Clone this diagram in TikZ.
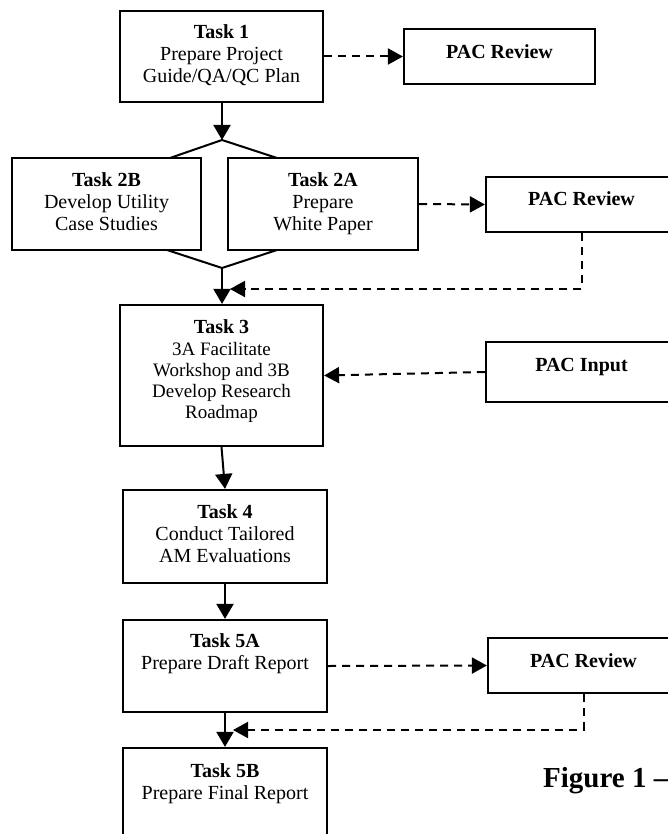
\documentclass[tikz,border=0pt]{standalone}
\usepackage{fontspec}
\setmainfont{Liberation Serif}
\usetikzlibrary{arrows.meta,calc}

% box content: width, height, first-baseline depth, text
\newcommand{\boxcontent}[4]{\parbox[c][#2][t]{#1}{\centering\fontsize{20}{22}\selectfont\rule{0pt}{#3}#4}}

\tikzset{
  taskbox/.style={draw, line width=2.2pt, inner sep=0pt},
  flow/.style={line width=2pt, -{Triangle[length=15pt,width=17pt]}},
  plainline/.style={line width=2pt},
  feedback/.style={line width=2pt, dash pattern=on 8pt off 6pt, -{Triangle[length=15pt,width=16pt]}},
  figtext/.style={anchor=base west, inner sep=0pt, font=\bfseries\fontsize{29}{34}\selectfont}
}

\begin{document}
\begin{tikzpicture}[x=1pt,y=-1pt]
\useasboundingbox (0,0) rectangle (668,834);
\clip (0,0) rectangle (668,834);

% task boxes
\node[taskbox] (t1) at (221.5,56.5) {\boxcontent{203pt}{91pt}{28pt}{\textbf{Task 1}\\Prepare Project\\Guide/QA/QC Plan}};
\node[taskbox] (t2b) at (106.5,204) {\boxcontent{189pt}{92pt}{29pt}{\textbf{Task 2B}\\Develop Utility\\Case Studies}};
\node[taskbox] (t2a) at (323,204) {\boxcontent{190pt}{92pt}{29pt}{\textbf{Task 2A}\\Prepare\\White Paper}};
\node[taskbox] (t3) at (221.5,375.5) {\boxcontent{203pt}{141pt}{28pt}{\textbf{Task 3}\\[1.5pt]\fontsize{19}{21}\selectfont 3A Facilitate\\Workshop and 3B\\Develop Research\\Roadmap}};
\node[taskbox] (t4) at (225,536.5) {\boxcontent{204pt}{93pt}{28pt}{\textbf{Task 4}\\Conduct Tailored\\AM Evaluations}};
\node[taskbox] (t5a) at (225,666) {\boxcontent{204pt}{92pt}{27.5pt}{\textbf{Task 5A}\\Prepare Draft Report}};
\node[taskbox] (t5b) at (225,794) {\boxcontent{204pt}{92pt}{29pt}{\textbf{Task 5B}\\Prepare Final Report}};

% PAC boxes
\node[taskbox] (p1) at (499.5,56.5) {\boxcontent{191pt}{55pt}{30pt}{\textbf{PAC Review}}};
\node[taskbox] (p2) at (581.5,204.5) {\boxcontent{191pt}{55pt}{28.5pt}{\textbf{PAC Review}}};
\node[taskbox] (pin) at (581.5,372) {\boxcontent{191pt}{60pt}{29.5pt}{\textbf{PAC Input}}};
\node[taskbox] (p3) at (583.5,665.5) {\boxcontent{191pt}{55pt}{29pt}{\textbf{PAC Review}}};

% caption
\node[figtext] (fig) at (543,787) {Figure 1 –};

% split / join points
\coordinate (split) at (222,140);
\coordinate (s2b) at (170,158);
\coordinate (s2a) at (277,158);
\coordinate (j2b) at (167,250);
\coordinate (j2a) at (277,250);
\coordinate (join) at (222,268);
\coordinate (fb2) at (230,289);
\coordinate (fb3) at (233,730);

% solid flow
\draw[flow] (t1.south -| split) -- (split);
\draw[plainline] (s2b) -- (split) -- (s2a);
\draw[plainline] (j2b) -- (join) -- (j2a);
\draw[flow] (join) -- (join |- t3.north);
\draw[flow] (t3.south) -- (t4.north);
\draw[flow] (t4.south) -- (t5a.north);
\draw[flow] (t5a.south) -- (t5b.north);

% dashed feedback
\draw[feedback] (t1.east) -- (p1.west);
\draw[feedback] (t2a.east) -- (p2.west);
\draw[feedback] (p2.south) |- (fb2);
\draw[feedback] (pin.west) -- (t3.east);
\draw[feedback] (t5a.east) -- (p3.west);
\draw[feedback] (p3.south) |- (fb3);
\end{tikzpicture}
\end{document}
